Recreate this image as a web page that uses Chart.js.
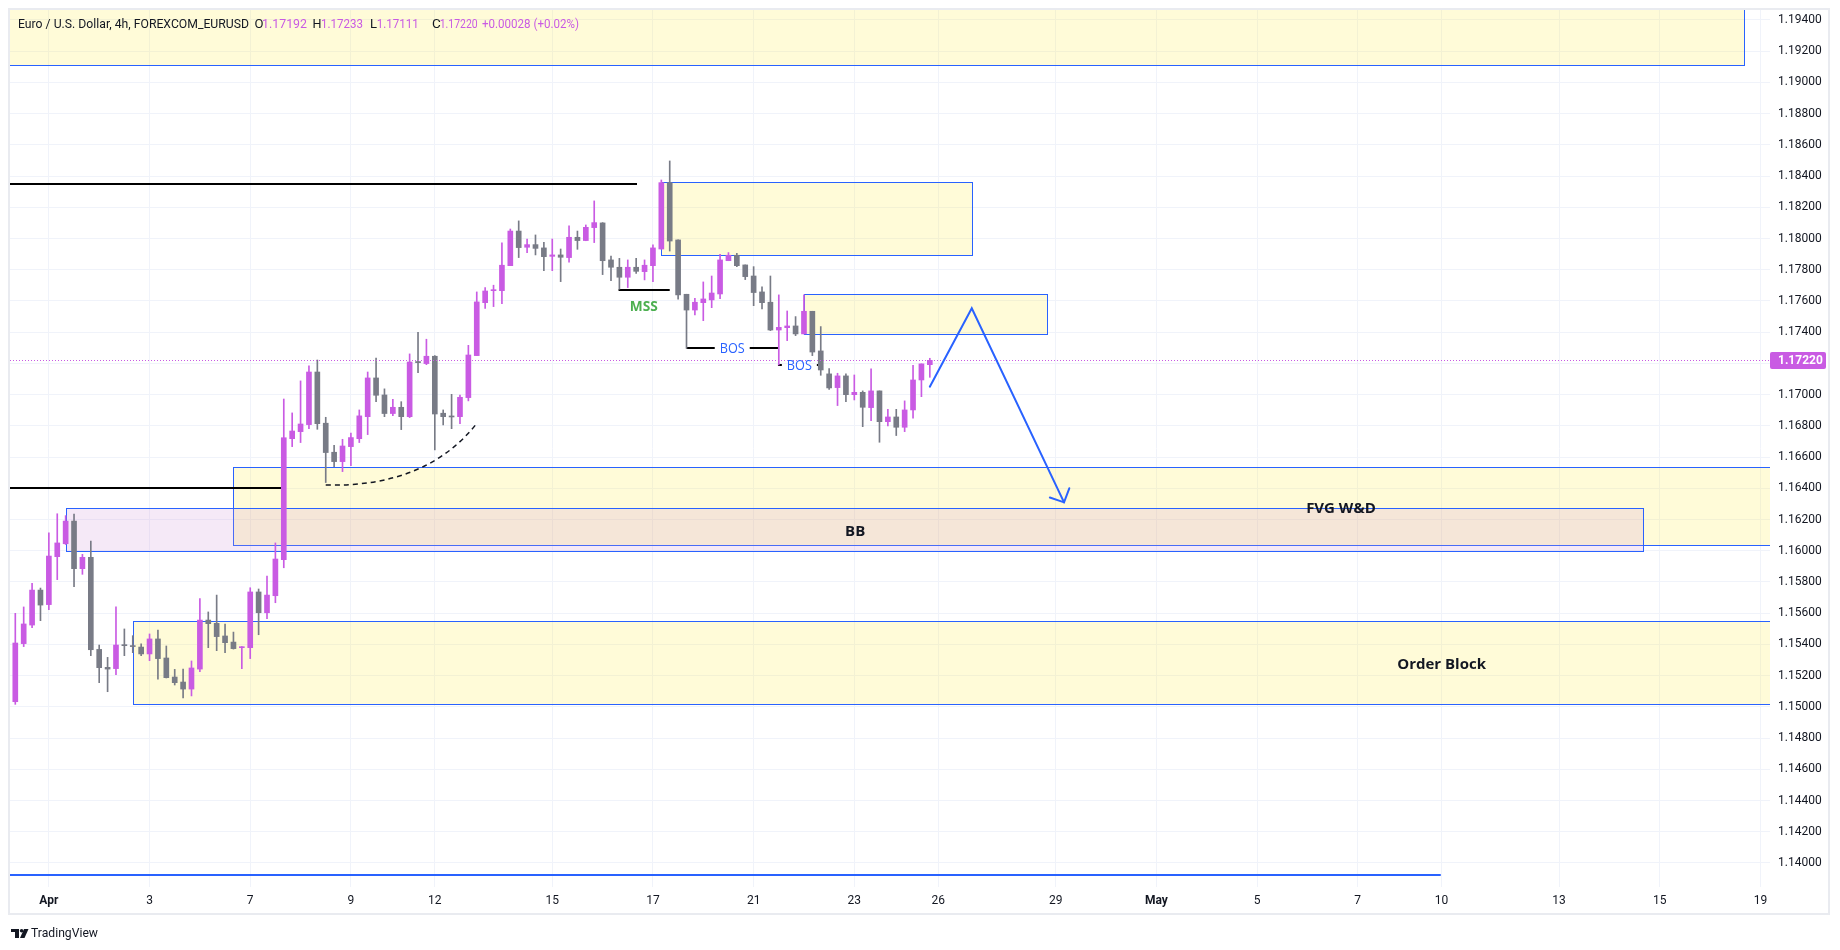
<!DOCTYPE html>
<html>
<head>
<meta charset="utf-8">
<title>Euro / U.S. Dollar, 4h</title>
<script src="https://cdn.jsdelivr.net/npm/chart.js@4.4.1/dist/chart.umd.min.js"></script>
<style>
html,body{margin:0;padding:0;background:#ffffff;overflow:hidden;}
canvas{display:block;}
</style>
</head>
<body>
<canvas id="chart" width="1840" height="950" style="width:1840px;height:950px"></canvas>
<script>
// ---------- time axis ----------
const timeTickIdx    = [4, 16, 28, 40, 50, 64, 76, 88, 100, 110, 124, 136, 148, 160, 170, 184, 196, 208];
const timeTickLabels = ['Apr','3','7','9','12','15','17','21','23','26','29','May','5','7','10','13','15','19'];

// ---------- price axis ----------
const priceTicks = [1.140,1.142,1.144,1.146,1.148,1.150,1.152,1.154,1.156,1.158,1.160,1.162,1.164,1.166,
                    1.168,1.170,1.172,1.174,1.176,1.178,1.180,1.182,1.184,1.186,1.188,1.190,1.192,1.194];

// ---------- candles (4h) ----------
const opens = [
1.15033,1.15405,1.15524,1.15748,1.15655,1.15962,1.16045,1.16190,1.15885,1.15958,
1.15368,1.15253,1.15245,1.15398,1.15390,1.15383,1.15339,1.15435,1.15313,1.15191,
1.15159,1.15114,1.15242,1.15556,1.15535,1.15454,1.15415,1.15379,1.15379,1.15736,
1.15603,1.15712,1.15943,1.16718,1.16763,1.16808,1.17145,1.16817,1.16631,1.16571,
1.16667,1.16718,1.16859,1.17107,1.16998,1.16879,1.16919,1.16859,1.17212,1.17199,
1.17246,1.16881,1.16861,1.16859,1.16981,1.17250,1.17589,1.17666,1.17666,1.17826,
1.18048,1.17944,1.17961,1.17940,1.17886,1.17895,1.17878,1.18008,1.17987,1.18070,
1.18100,1.17863,1.17816,1.17752,1.17816,1.17788,1.17826,1.17933,1.18358,1.17991,
1.17643,1.17542,1.17589,1.17607,1.17645,1.17858,1.17893,1.17831,1.17760,1.17658,
1.17592,1.17414,1.17429,1.17440,1.17389,1.17534,1.17280,1.17133,1.17045,1.17120,
1.17000,1.17015,1.16917,1.17024,1.16827,1.16857,1.16791,1.16902,1.17094,1.17192];
const highs = [
1.15599,1.15640,1.15791,1.15761,1.16114,1.16237,1.16225,1.16235,1.15977,1.16062,
1.15396,1.15317,1.15640,1.15499,1.15456,1.15403,1.15467,1.15492,1.15390,1.15240,
1.15242,1.15294,1.15693,1.15608,1.15716,1.15531,1.15479,1.15386,1.15763,1.15755,
1.15838,1.16050,1.16972,1.16883,1.17088,1.17184,1.17222,1.16855,1.16676,1.16714,
1.16753,1.16902,1.17145,1.17235,1.17037,1.16970,1.16955,1.17261,1.17399,1.17355,
1.17250,1.16902,1.17002,1.16998,1.17316,1.17658,1.17686,1.17701,1.17972,1.18061,
1.18113,1.17997,1.18023,1.17976,1.17997,1.17933,1.18081,1.18048,1.18087,1.18241,
1.18102,1.17888,1.17873,1.17863,1.17873,1.17863,1.17959,1.18375,1.18497,1.17991,
1.17643,1.17617,1.17722,1.17760,1.17899,1.17910,1.17905,1.17831,1.17820,1.17690,
1.17760,1.17639,1.17536,1.17500,1.17639,1.17534,1.17436,1.17167,1.17137,1.17133,
1.17126,1.17024,1.17165,1.17024,1.16906,1.16906,1.16960,1.17188,1.17197,1.17233];
const lows = [
1.15016,1.15386,1.15507,1.15552,1.15623,1.15815,1.16040,1.15770,1.15849,1.15328,
1.15155,1.15097,1.15206,1.15328,1.15347,1.15328,1.15296,1.15178,1.15185,1.15140,
1.15057,1.15070,1.15225,1.15379,1.15360,1.15347,1.15370,1.15245,1.15309,1.15462,
1.15565,1.15667,1.15891,1.16667,1.16693,1.16782,1.16778,1.16437,1.16539,1.16507,
1.16545,1.16693,1.16744,1.16955,1.16859,1.16866,1.16776,1.16853,1.17141,1.17192,
1.16646,1.16806,1.16782,1.16814,1.16960,1.17250,1.17553,1.17564,1.17583,1.17826,
1.17878,1.17910,1.17895,1.17794,1.17794,1.17724,1.17848,1.17931,1.17986,1.17974,
1.17769,1.17730,1.17675,1.17686,1.17777,1.17735,1.17724,1.17932,1.17920,1.17611,
1.17297,1.17510,1.17474,1.17557,1.17615,1.17858,1.17820,1.17737,1.17570,1.17549,
1.17410,1.17190,1.17346,1.17378,1.17389,1.17250,1.17124,1.17034,1.16930,1.16955,
1.16966,1.16795,1.16834,1.16695,1.16800,1.16738,1.16763,1.16849,1.16987,1.17111];
const closes = [
1.15409,1.15531,1.15748,1.15652,1.15966,1.16050,1.16190,1.15885,1.15958,1.15366,
1.15251,1.15242,1.15396,1.15392,1.15386,1.15339,1.15435,1.15309,1.15187,1.15155,
1.15114,1.15249,1.15556,1.15533,1.15450,1.15411,1.15373,1.15383,1.15736,1.15603,
1.15716,1.15947,1.16724,1.16767,1.16812,1.17145,1.16814,1.16629,1.16571,1.16671,
1.16725,1.16864,1.17107,1.16996,1.16879,1.16919,1.16859,1.17209,1.17205,1.17246,
1.16876,1.16859,1.16857,1.16983,1.17254,1.17594,1.17664,1.17671,1.17829,1.18048,
1.17942,1.17961,1.17937,1.17884,1.17895,1.17880,1.18008,1.17987,1.18072,1.18102,
1.17858,1.17816,1.17752,1.17816,1.17790,1.17829,1.17940,1.18358,1.17984,1.17639,
1.17542,1.17592,1.17613,1.17651,1.17863,1.17893,1.17826,1.17756,1.17654,1.17589,
1.17414,1.17431,1.17440,1.17389,1.17534,1.17273,1.17158,1.17043,1.17120,1.17000,
1.17015,1.16919,1.17024,1.16827,1.16857,1.16791,1.16902,1.17094,1.17197,1.17220];

// ---------- drawings (in bar-index / price units) ----------
const zoneX0   = [-5,      77,      94,      26,      6,       14];
const zoneX1   = [206,     114,     123,     240,     194,     240];
const zoneLow  = [1.19112, 1.17893, 1.17389, 1.16035, 1.15997, 1.15016];
const zoneHigh = [1.19750, 1.18360, 1.17643, 1.16535, 1.16272, 1.15548];
const zoneKind = ['zone','zone','zone','zone','breaker','zone'];

const levelX0   = [-5,      -5,      71.9,    80.0,    90.9];
const levelX1   = [74.1,    31.75,   78.0,    90.9,    96.0];
const levelY    = [1.18349, 1.16402, 1.17670, 1.17297, 1.17190];
const levelText = ['',      '',      '',      'BOS',   'BOS'];

const targetLineX = [-5, 169.9];
const targetLineY = 1.13920;

const labelText = ['MSS',   'BB',    'FVG W&D', 'Order Block'];
const labelX    = [74.9,    100.1,   158.0,     170.0];
const labelY    = [1.17565, 1.16123, 1.16266,   1.15270];

const pathX = [109, 114, 125];
const pathY = [1.17051, 1.17553, 1.16310];

const curveX = [37, 49, 55];
const curveY = [1.16421, 1.16405, 1.16816];

// ---------- styling ----------
const BULL = '#c95be3';
const BEAR = '#787b86';
const BLUE = '#2962ff';
const TEXT = '#131722';
const GRID = '#f0f3fa';

const idx = opens.map((_, i) => i);
const candleColors = idx.map(i => closes[i] >= opens[i] ? BULL : BEAR);
const lastClose = closes[closes.length - 1];

Chart.defaults.font.family = 'Roboto, "Noto Sans", sans-serif';

const drawings = {
  id: 'drawings',
  beforeDatasetsDraw(chart) {
    const {ctx, chartArea: a, scales: {x, y}} = chart;
    ctx.save();
    ctx.beginPath(); ctx.rect(a.left, a.top, a.right - a.left, a.bottom - a.top); ctx.clip();
    for (let k = 0; k < zoneX0.length; k++) {
      const x0 = Math.round(x.getPixelForValue(zoneX0[k])) + 0.5;
      const x1 = Math.round(x.getPixelForValue(zoneX1[k])) + 0.5;
      const y0 = Math.round(y.getPixelForValue(zoneHigh[k])) + 0.5;
      const y1 = Math.round(y.getPixelForValue(zoneLow[k])) + 0.5;
      ctx.fillStyle = zoneKind[k] === 'breaker' ? 'rgba(206,147,216,0.2)' : 'rgba(255,235,59,0.2)';
      ctx.fillRect(x0, y0, x1 - x0, y1 - y0);
      ctx.strokeStyle = BLUE; ctx.lineWidth = 1;
      ctx.strokeRect(x0, y0, x1 - x0, y1 - y0);
    }
    // black levels
    ctx.font = '14px "Open Sans", Roboto, sans-serif';
    ctx.textAlign = 'center'; ctx.textBaseline = 'middle';
    for (let k = 0; k < levelX0.length; k++) {
      const x0 = x.getPixelForValue(levelX0[k]);
      const x1 = x.getPixelForValue(levelX1[k]);
      const py = Math.round(y.getPixelForValue(levelY[k]));
      ctx.strokeStyle = '#000000'; ctx.lineWidth = 2;
      ctx.beginPath();
      if (levelText[k]) {
        const mid = (x0 + x1) / 2;
        const w = Math.min(ctx.measureText(levelText[k]).width, 25) / 2 + 5;
        ctx.moveTo(x0, py); ctx.lineTo(mid - w, py);
        ctx.moveTo(mid + w, py); ctx.lineTo(x1, py);
      } else {
        ctx.moveTo(x0, py); ctx.lineTo(x1, py);
      }
      ctx.stroke();
    }
    // blue target line
    {
      const py = Math.round(y.getPixelForValue(targetLineY));
      ctx.strokeStyle = BLUE; ctx.lineWidth = 2;
      ctx.beginPath();
      ctx.moveTo(x.getPixelForValue(targetLineX[0]), py);
      ctx.lineTo(x.getPixelForValue(targetLineX[1]), py);
      ctx.stroke();
    }
    // dashed curve
    ctx.strokeStyle = TEXT; ctx.lineWidth = 1.5; ctx.setLineDash([5, 4]);
    ctx.beginPath();
    ctx.moveTo(x.getPixelForValue(curveX[0]), y.getPixelForValue(curveY[0]));
    ctx.quadraticCurveTo(x.getPixelForValue(curveX[1]), y.getPixelForValue(curveY[1]),
                         x.getPixelForValue(curveX[2]), y.getPixelForValue(curveY[2]));
    ctx.stroke();
    ctx.setLineDash([]);
    ctx.restore();
  },
  afterDatasetsDraw(chart) {
    const {ctx, chartArea: a, scales: {x, y}} = chart;
    ctx.save();
    ctx.beginPath(); ctx.rect(a.left, a.top, a.right - a.left, a.bottom - a.top); ctx.clip();
    // last price dotted line
    const py = Math.round(y.getPixelForValue(lastClose)) + 0.5;
    ctx.strokeStyle = BULL; ctx.lineWidth = 1; ctx.setLineDash([1, 2]);
    ctx.beginPath(); ctx.moveTo(a.left, py); ctx.lineTo(a.right, py); ctx.stroke();
    ctx.setLineDash([]);
    // level texts
    ctx.textAlign = 'center'; ctx.textBaseline = 'middle';
    ctx.font = '14px "Open Sans", Roboto, sans-serif';
    ctx.fillStyle = BLUE;
    for (let k = 0; k < levelX0.length; k++) {
      if (!levelText[k]) continue;
      const mid = (x.getPixelForValue(levelX0[k]) + x.getPixelForValue(levelX1[k])) / 2;
      ctx.fillText(levelText[k], mid, y.getPixelForValue(levelY[k]) + 1, 25);
    }
    // labels
    for (let k = 0; k < labelText.length; k++) {
      ctx.font = 'bold 15px "Open Sans", Roboto, sans-serif';
      ctx.fillStyle = labelText[k] === 'MSS' ? '#4caf50' : TEXT;
      const mw = labelText[k] === 'MSS' ? 28 : 200;
      ctx.fillText(labelText[k], x.getPixelForValue(labelX[k]), y.getPixelForValue(labelY[k]), mw);
    }
    // projected path with arrow
    const pts = pathX.map((v, k) => [x.getPixelForValue(v), y.getPixelForValue(pathY[k])]);
    ctx.strokeStyle = BLUE; ctx.lineWidth = 2; ctx.lineJoin = 'miter'; ctx.lineCap = 'round';
    ctx.beginPath();
    ctx.moveTo(pts[0][0], pts[0][1]);
    for (let k = 1; k < pts.length; k++) ctx.lineTo(pts[k][0], pts[k][1]);
    ctx.stroke();
    const [tx, ty] = pts[pts.length - 1];
    const [sx, sy] = pts[pts.length - 2];
    const ang = Math.atan2(sy - ty, sx - tx);
    const L = 15, th = 0.8;
    ctx.beginPath();
    ctx.moveTo(tx + L * Math.cos(ang - th), ty + L * Math.sin(ang - th));
    ctx.lineTo(tx, ty);
    ctx.lineTo(tx + L * Math.cos(ang + th), ty + L * Math.sin(ang + th));
    ctx.stroke();
    ctx.restore();
  },
  afterDraw(chart) {
    const {ctx, scales: {y}} = chart;
    ctx.save();
    // header
    ctx.textBaseline = 'middle'; ctx.textAlign = 'left';
    ctx.font = '13.5px Roboto, sans-serif';
    const hy = 25;
    const o = opens[opens.length - 1];
    const parts = [
      ['Euro / U.S. Dollar, 4h, FOREXCOM_EURUSD', 18, 231, TEXT],
      ['O', 254.5, 9, TEXT], [o.toFixed(5), 262, 45, BULL],
      ['H', 312.5, 9, TEXT], [highs[highs.length-1].toFixed(5), 321, 42, BULL],
      ['L', 370, 7, TEXT], [lows[lows.length-1].toFixed(5), 376.8, 42, BULL],
      ['C', 432, 9, TEXT], [lastClose.toFixed(5), 439.7, 38, BULL],
      ['+' + (lastClose - o).toFixed(5) + ' (+' + ((lastClose - o) / o * 100).toFixed(2) + '%)', 482, 97, BULL]
    ];
    for (const [t, px, w, c] of parts) { ctx.fillStyle = c; ctx.fillText(t, px, hy, w); }
    // last price label
    const py = y.getPixelForValue(lastClose);
    ctx.fillStyle = BULL;
    ctx.beginPath();
    if (ctx.roundRect) ctx.roundRect(1770, Math.round(py) - 8, 56, 17, 2); else ctx.rect(1770, Math.round(py) - 8, 56, 17);
    ctx.fill();
    ctx.fillStyle = '#ffffff';
    ctx.font = 'bold 12px Roboto, sans-serif';
    ctx.fillText(lastClose.toFixed(5), 1778, Math.round(py) + 0.5);
    // frame
    ctx.strokeStyle = '#e9ebf0'; ctx.lineWidth = 2;
    ctx.strokeRect(9, 9, 1820, 905);
    // logo
    ctx.fillStyle = TEXT;
    ctx.fillRect(11, 929, 8, 3);
    ctx.fillRect(15, 929, 4, 9);
    ctx.beginPath(); ctx.arc(21.6, 930.8, 1.8, 0, Math.PI * 2); ctx.fill();
    ctx.beginPath(); ctx.moveTo(24, 929); ctx.lineTo(28.5, 929); ctx.lineTo(24.5, 938); ctx.lineTo(20, 938); ctx.closePath(); ctx.fill();
    ctx.font = '13px Roboto, sans-serif';
    ctx.fillText('TradingView', 31, 934, 67);
    ctx.restore();
  }
};

new Chart(document.getElementById('chart'), {
  type: 'bar',
  data: {
    datasets: [
      { label: 'body', data: idx.map(i => ({x: i, y: [opens[i], closes[i]]})),
        backgroundColor: candleColors, borderWidth: 0, barThickness: 5, minBarLength: 1, grouped: false, order: 0 },
      { label: 'wick', data: idx.map(i => ({x: i, y: [lows[i], highs[i]]})),
        backgroundColor: candleColors, borderWidth: 0, barThickness: 1, grouped: false, order: 1 }
    ]
  },
  options: {
    responsive: false,
    devicePixelRatio: 1,
    animation: false,
    events: [],
    layout: { padding: { left: 10, top: 10, right: 0, bottom: 0 } },
    plugins: { legend: { display: false }, tooltip: { enabled: false } },
    scales: {
      x: {
        type: 'linear', min: -0.6317, max: 209.14, bounds: 'data', offset: false,
        afterBuildTicks: s => { s.ticks = timeTickIdx.map(v => ({value: v})); },
        afterFit: s => { s.height = 63; s.paddingLeft = 0; s.paddingRight = 0; },
        grid: { color: GRID, drawTicks: false, offset: false },
        border: { display: false },
        ticks: {
          autoSkip: false, maxRotation: 0, minRotation: 0, padding: 7, color: TEXT,
          font: c => ({ size: 12, weight: (isNaN(Number(timeTickLabels[c.index])) ? 'bold' : 'normal') }),
          callback: (v, i) => timeTickLabels[i]
        }
      },
      y: {
        type: 'linear', position: 'right', min: 1.13846, max: 1.19464, bounds: 'data', beginAtZero: false,
        afterBuildTicks: s => { s.ticks = priceTicks.map(v => ({value: v})); },
        afterFit: s => { s.width = 70; s.paddingTop = 0; s.paddingBottom = 0; },
        grid: { color: GRID, drawTicks: false },
        border: { display: false },
        ticks: {
          padding: 8, color: TEXT, font: { size: 12 },
          callback: v => Math.abs(v - lastClose) < 0.0005 ? '' : v.toFixed(5)
        }
      }
    }
  },
  plugins: [drawings]
});
</script>
</body>
</html>
